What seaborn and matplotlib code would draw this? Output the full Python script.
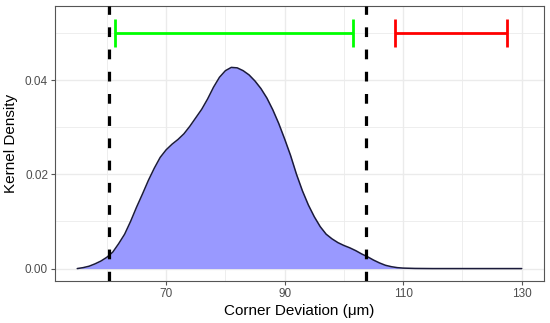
import matplotlib
matplotlib.use("Agg")
import matplotlib.pyplot as plt
import numpy as np
import pandas as pd
import seaborn as sns

# density curve
dev = [55, 56, 57, 58, 59, 60, 61, 62, 63, 64, 65, 66, 67, 68, 69, 70, 71, 72, 73, 74,
       75, 76, 77, 78, 79, 80, 81, 82, 83, 84, 85, 86, 87, 88, 89, 90, 91, 92, 93, 94,
       95, 96, 97, 98, 99, 100, 101, 102, 103, 104, 105, 106, 107, 108, 109, 110, 112,
       115, 120, 125, 130]
dens = [0.0000, 0.0002, 0.0005, 0.0010, 0.0016, 0.0024, 0.0035, 0.0053, 0.0073, 0.0100,
        0.0130, 0.0158, 0.0187, 0.0213, 0.0236, 0.0252, 0.0264, 0.0274, 0.0286, 0.0302,
        0.0320, 0.0338, 0.0360, 0.0385, 0.0406, 0.0420, 0.0427, 0.0426, 0.0420, 0.0411,
        0.0398, 0.0382, 0.0362, 0.0337, 0.0308, 0.0275, 0.0240, 0.0200, 0.0165, 0.0135,
        0.0110, 0.0089, 0.0073, 0.0063, 0.0055, 0.0049, 0.0044, 0.0038, 0.0031, 0.0025,
        0.0018, 0.0012, 0.0007, 0.0004, 0.0002, 0.0001, 0.00003, 0.0, 0.0, 0.0, 0.0]

vlines = [60.4, 103.7]
green_range = [61.3, 101.6]
red_range = [108.7, 127.5]
bar_y = 0.05

df = pd.DataFrame({"dev": dev, "dens": dens})

sns.set_theme(style="white")
plt.rcParams['font.family'] = ['Liberation Sans', 'DejaVu Sans']
plt.rcParams['lines.scale_dashes'] = False

fig = plt.figure(figsize=(5.5, 3.23), dpi=100)
ax = fig.add_axes([0.1, 0.13, 0.889, 0.851])

ax.fill_between(df["dev"], 0, df["dens"], color="#9999FF", linewidth=0, zorder=2)
sns.lineplot(data=df, x="dev", y="dens", color="#1a1a3a", linewidth=1.1, ax=ax, zorder=3)

for v in vlines:
    ax.axvline(v, color="black", linewidth=2.3, linestyle=(0, (7, 9)), zorder=4)

for rng, col in [(green_range, "#00FF00"), (red_range, "red")]:
    mid = (rng[0] + rng[1]) / 2
    ax.errorbar(mid, bar_y, xerr=(rng[1] - rng[0]) / 2, color=col, linewidth=2,
                capsize=10, capthick=2, zorder=5)

ax.set_xlim(51.25, 133.75)
ax.set_ylim(-0.00264, 0.0557)
ax.set_xticks([70, 90, 110, 130])
ax.set_xticks([60, 80, 100, 120], minor=True)
ax.set_yticks([0.0, 0.02, 0.04])
ax.set_yticklabels(["0.00", "0.02", "0.04"])
ax.set_yticks([0.01, 0.03, 0.05], minor=True)
ax.grid(True, which="major", color="#EBEBEB", linewidth=1.0, zorder=0)
ax.grid(True, which="minor", color="#EBEBEB", linewidth=0.6, zorder=0)
ax.set_axisbelow(True)

for s in ax.spines.values():
    s.set_color("#555555")
    s.set_linewidth(0.8)

ax.tick_params(axis="both", which="major", length=3, width=0.8, color="#555555",
               labelsize=8.5, labelcolor="#4D4D4D", pad=2, bottom=True, left=True)
ax.tick_params(axis="both", which="minor", length=0)

ax.set_xlabel("Corner Deviation (\u03bcm)", fontsize=11, color="black", labelpad=3)
ax.set_ylabel("Kernel Density", fontsize=11, color="black", labelpad=5)

fig.savefig("out.png", dpi=100)
